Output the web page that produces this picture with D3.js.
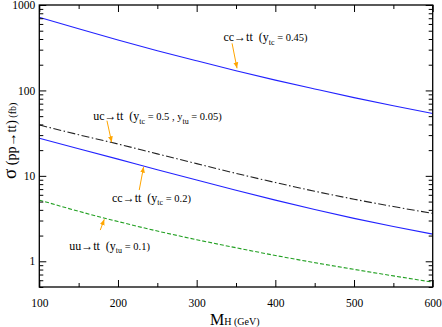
<!DOCTYPE html>
<html><head><meta charset="utf-8">
<script src="https://cdn.jsdelivr.net/npm/d3@7"></script>
<style>
body{margin:0;background:#fff}
text{font-family:"Liberation Serif","Times New Roman",serif;fill:#000}
</style>
</head><body>
<svg id="c" width="442" height="327"></svg>
<script>
// ---- data (M_H in GeV, sigma in fb) ----
const masses   = [100, 150, 200, 250, 300, 350, 400, 450, 500, 550, 600];
const ccHigh   = [718, 526, 390, 292, 222, 170, 132, 104, 82.4, 66.2, 53.8];      // cc->tt (y_tc=0.45)
const ucTT     = [39.4, 30.3, 23.6, 18.1, 13.9, 10.7, 8.36, 6.61, 5.33, 4.37, 3.64]; // uc->tt
const ccLow    = [27.5, 20.8, 15.7, 11.8, 8.93, 6.79, 5.20, 4.03, 3.18, 2.55, 2.08];  // cc->tt (y_tc=0.2)
const uuTT     = [5.21, 3.85, 2.92, 2.26, 1.79, 1.44, 1.17, 0.964, 0.804, 0.675, 0.57]; // uu->tt
const xTicks   = [100, 200, 300, 400, 500, 600];
const xMinor   = [150, 250, 350, 450, 550];
const yTicks   = [1, 10, 100, 1000];
const yTickLabels = ["1", "10", "100", "1000"];

const svg = d3.select("#c");
const x = d3.scaleLinear().domain([100, 600]).range([39.3, 432.7]);
const y = d3.scaleLog().domain([0.5, 1000]).range([287, 5]);

// minor y ticks
const yMinor = [];
[0.1, 1, 10, 100].forEach(d => { for (let k = 2; k <= 9; k++) { const v = d * k; if (v >= 0.5 && v < 1000) yMinor.push(v); } });

const series = [
  {vals: ccHigh, color: "#2222ff", dash: null},
  {vals: ucTT,   color: "#222222", dash: "8,2.5,1.5,2.5"},
  {vals: ccLow,  color: "#2222ff", dash: null},
  {vals: uuTT,   color: "#22a022", dash: "4,2"}
];
const line = d3.line().x((d, i) => x(masses[i])).y(d => y(d)).curve(d3.curveMonotoneX);
series.forEach(s => {
  svg.append("path").attr("d", line(s.vals)).attr("fill", "none")
    .attr("stroke", s.color).attr("stroke-width", 1.1)
    .attr("stroke-dasharray", s.dash);
});

// axes
function styleAxis(g) { g.attr("font-family", null); g.select(".domain").remove(); g.selectAll("line").attr("stroke", "#000"); g.selectAll("text").attr("font-size", 11.5).attr("fill", "#000"); }
svg.append("g").attr("transform", `translate(0,${y.range()[0]})`)
  .call(d3.axisBottom(x).tickValues(xTicks).tickSize(-7).tickPadding(12).tickFormat(d3.format("d"))).call(styleAxis);
svg.append("g").attr("transform", `translate(0,${y.range()[0]})`)
  .call(d3.axisBottom(x).tickValues(xMinor).tickSize(-4).tickFormat("")).call(styleAxis);
svg.append("g").attr("transform", `translate(0,${y.range()[1]})`)
  .call(d3.axisTop(x).tickValues(xTicks).tickSize(-7).tickFormat("")).call(styleAxis);
svg.append("g").attr("transform", `translate(0,${y.range()[1]})`)
  .call(d3.axisTop(x).tickValues(xMinor).tickSize(-4).tickFormat("")).call(styleAxis);
svg.append("g").attr("transform", `translate(${x.range()[0]},0)`)
  .call(d3.axisLeft(y).tickValues(yTicks).tickSize(-7).tickPadding(4).tickFormat((d, i) => yTickLabels[i])).call(styleAxis);
svg.append("g").attr("transform", `translate(${x.range()[0]},0)`)
  .call(d3.axisLeft(y).tickValues(yMinor).tickSize(-4).tickFormat("")).call(styleAxis);
svg.append("g").attr("transform", `translate(${x.range()[1]},0)`)
  .call(d3.axisRight(y).tickValues(yTicks).tickSize(-7).tickFormat("")).call(styleAxis);
svg.append("g").attr("transform", `translate(${x.range()[1]},0)`)
  .call(d3.axisRight(y).tickValues(yMinor).tickSize(-4).tickFormat("")).call(styleAxis);

// frame
svg.append("rect").attr("x", x.range()[0]).attr("y", y.range()[1])
  .attr("width", x.range()[1] - x.range()[0]).attr("height", y.range()[0] - y.range()[1])
  .attr("fill", "none").attr("stroke", "#000").attr("stroke-width", 1.3);

// annotations
const annotations = [
  {tx: 334, ty: 374, main: "cc\u2192tt  (y", subs: [["tc", " = 0.45)"]], from: [345, 356], to: [351.3, 181.5]},
  {tx: 168.6, ty: 45, main: "uc\u2192tt  (y", subs: [["tc", " = 0.5 , y"], ["tu", " = 0.05)"]], from: [186, 44.2], to: [192, 24.7]},
  {tx: 192.4, ty: 5.0, main: "cc\u2192tt  (y", subs: [["tc", " = 0.2)"]], from: [227, 6.82], to: [232.6, 12.8]},
  {tx: 138, ty: 1.37, main: "uu\u2192tt  (y", subs: [["tu", " = 0.1)"]], from: [177.5, 2.32], to: [182.6, 3.10]}
];
svg.append("defs").append("marker").attr("id", "ah").attr("viewBox", "0 0 10 10")
  .attr("refX", 10).attr("refY", 5).attr("markerWidth", 6).attr("markerHeight", 6)
  .attr("orient", "auto").attr("markerUnits", "userSpaceOnUse")
  .append("path").attr("d", "M0,1 L10,5 L0,9 Z").attr("fill", "#ffa500");
annotations.forEach(a => {
  const t = svg.append("text").attr("x", x(a.tx)).attr("y", y(a.ty))
    .attr("font-size", 12).style("white-space", "pre");
  t.append("tspan").text(a.main);
  a.subs.forEach(([s, rest]) => {
    t.append("tspan").attr("font-size", 8).attr("dy", 3.5).text(s);
    t.append("tspan").attr("font-size", 10.5).attr("dy", -3.5).text(rest);
  });
  svg.append("line").attr("x1", x(a.from[0])).attr("y1", y(a.from[1]))
    .attr("x2", x(a.to[0])).attr("y2", y(a.to[1]))
    .attr("stroke", "#ffa500").attr("stroke-width", 1).attr("marker-end", "url(#ah)");
});

// axis titles
const xl = svg.append("text").attr("x", 210).attr("y", 325).style("white-space", "pre");
xl.append("tspan").attr("font-size", 16).text("M");
xl.append("tspan").attr("font-size", 10).text("H (GeV)");

const yl = svg.append("text").attr("transform", "translate(16,179) rotate(-90)").style("white-space", "pre");
yl.append("tspan").attr("font-size", 19).text("\u03c3");
yl.append("tspan").attr("font-size", 14).text(" (pp\u2192tt)");
yl.append("tspan").attr("font-size", 10).text(" (fb)");
</script>
</body></html>
